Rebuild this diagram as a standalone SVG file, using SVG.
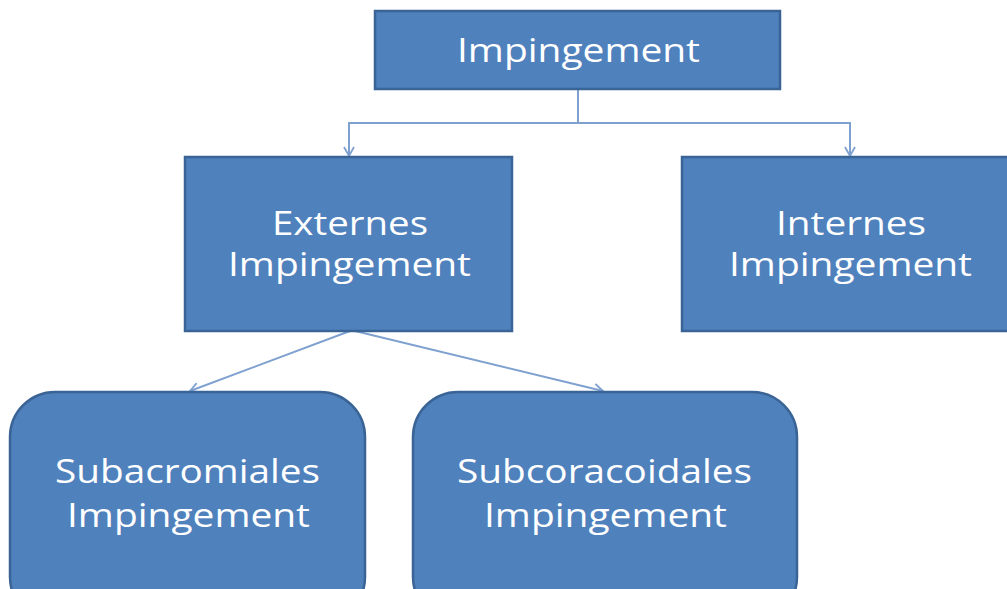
<svg xmlns="http://www.w3.org/2000/svg" width="1007" height="589" viewBox="0 0 1007 589">
<style>
.box{fill:#4F81BD;stroke:#3B6496;stroke-width:2.5}
.t{fill:#FFFFFF;font-family:"Open Sans","Liberation Sans",sans-serif;font-size:33px;text-anchor:middle}
.c{fill:none;stroke:#7FA1D0;stroke-width:2}
</style>
<defs>
<marker id="ah" markerWidth="12" markerHeight="12" refX="10" refY="6" orient="auto" markerUnits="userSpaceOnUse">
<path d="M1,1 L10,6 L1,11" fill="none" stroke="#7FA1D0" stroke-width="1.8"/>
</marker>
</defs>
<rect width="1007" height="589" fill="#FFFFFF"/>
<g id="connectors">
<path class="c" d="M578,89 V123 H349 V156" marker-end="url(#ah)"/>
<path class="c" d="M578,123 H850 V156" marker-end="url(#ah)"/>
<path class="c" d="M350,331 L190,391" marker-end="url(#ah)"/>
<path class="c" d="M355,331 L603,391" marker-end="url(#ah)"/>
</g>
<g id="n-impingement">
<rect class="box" x="375" y="11" width="405" height="78"/>
<text class="t" x="578.5" y="62" textLength="243" lengthAdjust="spacingAndGlyphs">Impingement</text>
</g>
<g id="n-externes">
<rect class="box" x="185" y="157" width="327" height="174"/>
<text class="t" x="350" y="235" textLength="156" lengthAdjust="spacingAndGlyphs">Externes</text>
<text class="t" x="349.5" y="276" textLength="243" lengthAdjust="spacingAndGlyphs">Impingement</text>
</g>
<g id="n-internes">
<rect class="box" x="682" y="157" width="340" height="174"/>
<text class="t" x="851" y="235" textLength="150" lengthAdjust="spacingAndGlyphs">Internes</text>
<text class="t" x="850.5" y="276" textLength="243" lengthAdjust="spacingAndGlyphs">Impingement</text>
</g>
<g id="n-subacromiales">
<rect class="box" x="10" y="392" width="355" height="230" rx="45" ry="45"/>
<text class="t" x="187.5" y="483" textLength="265" lengthAdjust="spacingAndGlyphs">Subacromiales</text>
<text class="t" x="188.5" y="527" textLength="243" lengthAdjust="spacingAndGlyphs">Impingement</text>
</g>
<g id="n-subcoracoidales">
<rect class="box" x="413" y="392" width="384" height="230" rx="45" ry="45"/>
<text class="t" x="604.5" y="483" textLength="295" lengthAdjust="spacingAndGlyphs">Subcoracoidales</text>
<text class="t" x="605.5" y="527" textLength="243" lengthAdjust="spacingAndGlyphs">Impingement</text>
</g>
</svg>
